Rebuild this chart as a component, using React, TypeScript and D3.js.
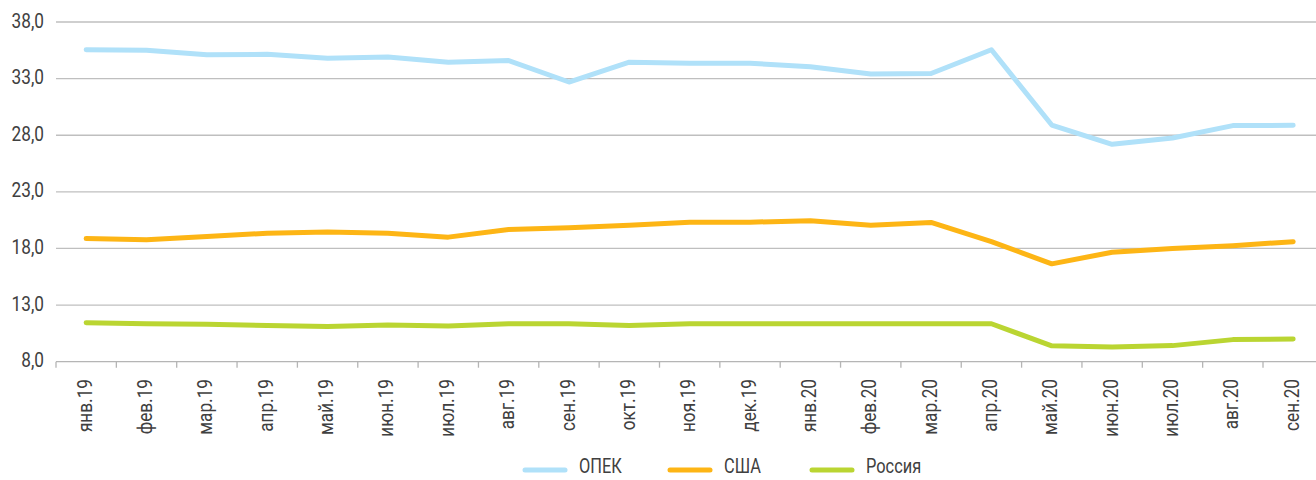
import React from "react";
import * as d3 from "d3";

const categories = ["янв.19","фев.19","мар.19","апр.19","май.19","июн.19","июл.19","авг.19","сен.19","окт.19","ноя.19","дек.19","янв.20","фев.20","мар.20","апр.20","май.20","июн.20","июл.20","авг.20","сен.20"];
const opec = [35.55,35.5,35.1,35.15,34.8,34.9,34.45,34.6,32.7,34.45,34.35,34.35,34.05,33.4,33.45,35.55,28.9,27.2,27.75,28.85,28.88];
const usa = [18.87,18.76,19.05,19.35,19.45,19.35,19.0,19.67,19.82,20.06,20.32,20.32,20.45,20.06,20.3,18.6,16.64,17.67,18.0,18.25,18.6];
const russia = [11.45,11.35,11.3,11.2,11.1,11.25,11.15,11.35,11.35,11.2,11.35,11.35,11.35,11.35,11.35,11.35,9.4,9.3,9.42,9.95,10.0];
const yTicks = [8,13,18,23,28,33,38];
const seriesNames = ["ОПЕК","США","Россия"];
const seriesColors = ["#b0e1f9","#fdb515","#bad532"];

const FONT = "Roboto, 'Noto Sans', sans-serif";
const FS = 21;
const SX = 0.82;

export default function App() {
  const W = 1316, H = 480;
  const left = 56, band = 60.35;
  const x = d3.scaleBand<string>().domain(categories).range([left, left + band * categories.length]).paddingInner(0).paddingOuter(0);
  const y = d3.scaleLinear().domain([8, 38]).range([361.7, 22]);
  const line = d3.line<number>().x((_, i) => (x(categories[i]) as number) + x.bandwidth() / 2).y(d => y(d));
  const series = [opec, usa, russia];
  const legendX = [525, 670, 812];
  const textColor = "#404040";
  return (
    <svg width={W} height={H} style={{ position: "absolute", left: 0, top: 0, overflow: "hidden", background: "#fff" }}>
      {yTicks.map(t => (
        <g key={t}>
          <line x1={left} x2={W} y1={y(t)} y2={y(t)} stroke={t === 8 ? "#b5b5b5" : "#bfbfbf"} strokeWidth={1.3} />
          <text transform={`translate(44,${y(t)}) scale(${SX},1)`} textAnchor="end" dominantBaseline="middle" fontFamily={FONT} fontSize={FS} fill={textColor}>
            {d3.format(".1f")(t).replace(".", ",")}
          </text>
        </g>
      ))}
      {categories.map((c, i) => (
        <line key={"tk" + i} x1={(x(c) as number)} x2={(x(c) as number)} y1={y(8)} y2={y(8) + 6} stroke="#b5b5b5" strokeWidth={1.3} />
      ))}
      {categories.map((c, i) => {
        const cx = (x(c) as number) + x.bandwidth() / 2;
        return (
          <text key={"xl" + i} transform={`translate(${cx},${379}) rotate(-90) scale(${SX},1)`} textAnchor="end" dominantBaseline="middle" fontFamily={FONT} fontSize={FS} fill={textColor}>
            {c}
          </text>
        );
      })}
      {series.map((s, i) => (
        <path key={"s" + i} d={line(s) as string} fill="none" stroke={seriesColors[i]} strokeWidth={5} strokeLinecap="round" strokeLinejoin="round" />
      ))}
      {seriesNames.map((n, i) => (
        <g key={"lg" + i}>
          <line x1={legendX[i]} x2={legendX[i] + 40} y1={470} y2={470} stroke={seriesColors[i]} strokeWidth={5} strokeLinecap="round" />
          <text transform={`translate(${legendX[i] + 54},467.5) scale(${SX},1)`} dominantBaseline="middle" fontFamily={FONT} fontSize={20} fill={textColor}>{n}</text>
        </g>
      ))}
    </svg>
  );
}
